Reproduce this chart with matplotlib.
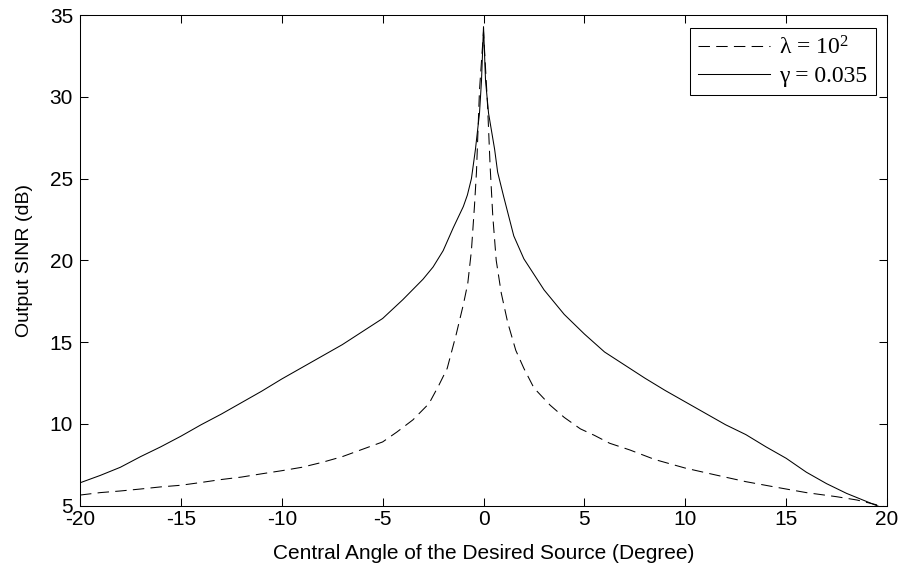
import numpy as np
import matplotlib
matplotlib.use("Agg")
import matplotlib.pyplot as plt

# values
angle_gamma = [-20, -19, -18, -17, -16, -15, -14, -13, -12, -11, -10, -9, -8, -7, -6, -5,
               -4, -3, -2.5, -2, -1.5, -1, -0.8, -0.6, -0.4, -0.2, -0.1, 0, 0.1, 0.25, 0.55,
               0.7, 1, 1.5, 2, 3, 4, 5, 6, 7, 8, 9, 10, 11, 12, 13, 14, 15, 16, 17, 18, 19, 20]
sinr_gamma = [6.4, 6.85, 7.35, 8.0, 8.6, 9.25, 9.95, 10.6, 11.3, 12.0, 12.75, 13.45, 14.15, 14.85, 15.65, 16.45,
              17.6, 18.85, 19.6, 20.6, 22.0, 23.3, 24.0, 25.0, 26.8, 29.0, 31.0, 34.3, 31.0, 29.0, 26.8,
              25.4, 23.9, 21.5, 20.1, 18.2, 16.7, 15.5, 14.4, 13.6, 12.8, 12.05, 11.35, 10.65, 9.95, 9.35,
              8.6, 7.9, 7.05, 6.35, 5.75, 5.25, 4.75]

angle_lambda = [-20, -19, -18, -17, -16, -15, -14, -13, -12, -11, -10, -9, -8, -7, -6, -5,
                -4.3, -3.5, -2.7, -2.2, -1.8, -1.35, -1.0, -0.78, -0.6, -0.45, -0.35, -0.2, 0,
                0.2, 0.33, 0.46, 0.63, 0.88, 1.2, 1.6, 2.0, 2.5, 3.3, 4, 4.8, 5.5, 6.25, 7.25,
                8.5, 10, 11.5, 13, 14.5, 16, 17.5, 18.5, 19.5, 20]
sinr_lambda = [5.65, 5.8, 5.9, 6.02, 6.15, 6.25, 6.42, 6.6, 6.75, 6.95, 7.14, 7.35, 7.65, 8.0, 8.45, 8.9,
               9.5, 10.25, 11.25, 12.4, 13.4, 15.5, 17.3, 18.6, 20.6, 23.3, 25.4, 30.4, 34.0,
               29.5, 25.7, 22.7, 20.0, 18.0, 16.2, 14.5, 13.4, 12.2, 11.15, 10.4, 9.7, 9.3, 8.82, 8.41,
               7.82, 7.3, 6.88, 6.47, 6.13, 5.8, 5.55, 5.35, 5.05, 4.9]

x_ticks = [-20, -15, -10, -5, 0, 5, 10, 15, 20]
y_ticks = [5, 10, 15, 20, 25, 30, 35]

plt.rcParams['font.family'] = 'Liberation Sans'
plt.rcParams['axes.unicode_minus'] = False
plt.rcParams['mathtext.fontset'] = 'custom'
plt.rcParams['mathtext.rm'] = 'Liberation Serif'
plt.rcParams['mathtext.it'] = 'Liberation Serif:italic'

fig = plt.figure(figsize=(9.02, 5.74), dpi=100)
ax = fig.add_axes([0.0887, 0.119, 0.8947, 0.8545])

ax.plot(angle_lambda, sinr_lambda, color='black', linewidth=0.75, dashes=(11, 6),
        label='λ = 10$^2$')
ax.plot(angle_gamma, sinr_gamma, color='black', linewidth=0.75, linestyle='-',
        label='γ = 0.035')

ax.set_xlim(-20, 20)
ax.set_ylim(5, 35)
ax.set_xticks(x_ticks)
ax.set_yticks(y_ticks)
ax.tick_params(direction='in', length=6, width=0.75, top=True, right=True,
               labelsize=15, pad=3)
ax.tick_params(axis='y', pad=5)
for s in ax.spines.values():
    s.set_linewidth(0.75)

ax.set_xlabel('Central Angle of the Desired Source (Degree)', fontsize=15, labelpad=11)
ax.set_ylabel('Output SINR (dB)', fontsize=14, labelpad=12)

leg = ax.legend(loc='upper right', bbox_to_anchor=(0.9708, 0.9507),
                bbox_transform=fig.transFigure, fancybox=False, framealpha=1,
                edgecolor='black', borderaxespad=0, handlelength=3.05,
                prop={'family': 'Liberation Serif', 'size': 17},
                borderpad=0.35, labelspacing=0.25, handletextpad=0.4)
leg.get_frame().set_linewidth(0.75)

fig.savefig('out.png', dpi=100)
